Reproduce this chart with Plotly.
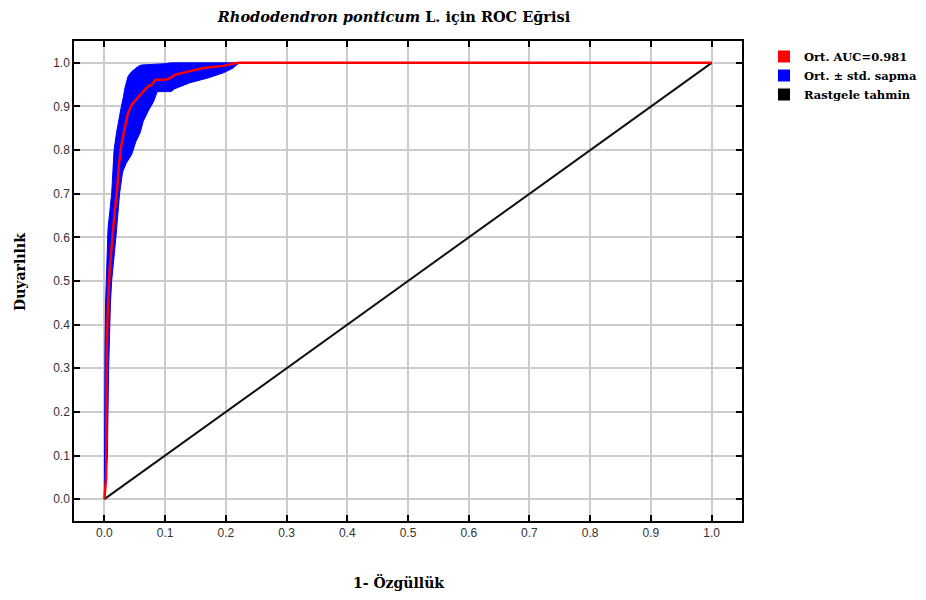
import plotly.graph_objects as go

# Mean ROC curve (1 - specificity, sensitivity)
mean_fpr = [0.0, 0.003, 0.004, 0.006, 0.009, 0.013, 0.017, 0.021, 0.024, 0.028, 0.034, 0.038,
            0.045, 0.050, 0.057, 0.064, 0.072, 0.078, 0.084, 0.100, 0.108, 0.117, 0.141,
            0.163, 0.196, 0.215, 0.224, 1.0]
mean_tpr = [0.0, 0.05, 0.35, 0.45, 0.53, 0.60, 0.66, 0.71, 0.767, 0.812, 0.858, 0.881,
            0.904, 0.911, 0.923, 0.934, 0.946, 0.950, 0.961, 0.961, 0.965, 0.973, 0.980,
            0.988, 0.993, 0.999, 1.0, 1.0]

# Upper edge of the +/- std band
upper_fpr = [0.0, 0.0, 0.001, 0.002, 0.004, 0.006, 0.009, 0.012, 0.014, 0.016, 0.020, 0.023,
             0.028, 0.031, 0.034, 0.039, 0.045, 0.056, 0.061, 0.100, 0.110, 1.0]
upper_tpr = [0.0, 0.14, 0.35, 0.45, 0.56, 0.62, 0.66, 0.70, 0.75, 0.80, 0.84, 0.866,
             0.90, 0.92, 0.943, 0.969, 0.980, 0.992, 0.995, 0.998, 1.0, 1.0]

# Lower edge of the +/- std band
lower_fpr = [0.0, 0.005, 0.007, 0.010, 0.012, 0.015, 0.019, 0.025, 0.030, 0.036, 0.045, 0.052,
             0.059, 0.064, 0.072, 0.081, 0.087, 0.110, 0.115, 0.140, 0.170, 0.196, 0.212,
             0.222, 1.0]
lower_tpr = [0.0, 0.10, 0.30, 0.45, 0.50, 0.55, 0.60, 0.70, 0.75, 0.77, 0.79, 0.82,
             0.84, 0.866, 0.889, 0.911, 0.934, 0.934, 0.940, 0.954, 0.965, 0.977, 0.988,
             1.0, 1.0]

random_x = [0.0, 1.0]
random_y = [0.0, 1.0]

legend_names = ["Ort. AUC=0.981", "Ort. ± std. sapma", "Rastgele tahmin"]
legend_colors = ["#ff0000", "#0000ff", "#000000"]

tick_vals = [round(i * 0.1, 1) for i in range(11)]
tick_text = [f"{v:.1f}" for v in tick_vals]

serif = "DejaVu Serif"

# page offset (browser body margin)
OFF = 8
W, H = 926, 600
ML, MR, MT, MB = 74 - OFF, 184 + OFF, 41 - OFF, 79 + OFF

fig = go.Figure()

# std band polygon
band_x = upper_fpr + lower_fpr[::-1]
band_y = upper_tpr + lower_tpr[::-1]
fig.add_trace(go.Scatter(x=band_x, y=band_y, fill="toself", fillcolor="#0000ff",
                         line=dict(color="#0000ff", width=1), mode="lines",
                         showlegend=False, hoverinfo="skip"))
fig.add_trace(go.Scatter(x=random_x, y=random_y, mode="lines",
                         line=dict(color="#111111", width=2), showlegend=False))
fig.add_trace(go.Scatter(x=mean_fpr, y=mean_tpr, mode="lines",
                         line=dict(color="#ff0000", width=2.5), showlegend=False))

for name, col in zip(legend_names, legend_colors):
    fig.add_trace(go.Scatter(x=[None], y=[None], mode="markers", name=f"<b>{name}</b>",
                             marker=dict(symbol="square", size=12, color=col)))

axis_common = dict(
    range=[-0.05, 1.05], tickvals=tick_vals, ticktext=tick_text,
    showgrid=True, gridcolor="#cccccc", gridwidth=1.5,
    zeroline=False, showline=True, linecolor="#000000", linewidth=1.5,
    mirror="ticks", ticks="inside", ticklen=6, tickcolor="#000000", tickwidth=1.5,
    tickfont=dict(family="Liberation Sans", size=12, color="#333333"),
    automargin=False,
)


def paper_xy(px, py):
    """page pixel position -> paper coordinates"""
    cx, cy = px - OFF, py - OFF
    pw, ph = W - ML - MR, H - MT - MB
    return (cx - ML) / pw, (H - MB - cy) / ph


tx, ty = paper_xy(398, 582)
yx, yy = paper_xy(20, 272)

fig.update_layout(
    width=W, height=H,
    margin=dict(l=ML, r=MR, t=MT, b=MB, autoexpand=False),
    paper_bgcolor="white", plot_bgcolor="white",
    title=dict(text="<b><i>Rhododendron ponticum</i> L. için ROC Eğrisi</b>",
               x=(394 - OFF) / W, xanchor="center", y=1 - 4 / H, yanchor="top",
               font=dict(family=serif, size=14.5, color="#000000")),
    xaxis=dict(**axis_common),
    yaxis=dict(**axis_common),
    legend=dict(x=(764 - OFF) / W, xanchor="left", y=1 - (42 - OFF) / H, yanchor="top",
                xref="container", yref="container",
                font=dict(family=serif, size=11.5, color="#000000"),
                bgcolor="rgba(0,0,0,0)", tracegroupgap=0, itemwidth=30),
    showlegend=True,
    annotations=[
        dict(text="<b>1- Özgüllük</b>", x=tx, y=ty,
             xref="paper", yref="paper", showarrow=False,
             font=dict(family=serif, size=14, color="#000000"),
             xanchor="center", yanchor="middle"),
        dict(text="<b>Duyarlılık</b>", x=yx, y=yy,
             xref="paper", yref="paper", showarrow=False, textangle=-90,
             font=dict(family=serif, size=14, color="#000000"),
             xanchor="center", yanchor="middle"),
    ],
)

fig.write_html("out.html")
